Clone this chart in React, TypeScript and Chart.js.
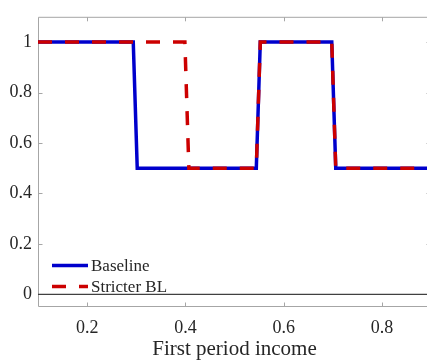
import React, { useEffect, useRef } from 'react';
import { Chart, registerables } from 'chart.js';

Chart.register(...registerables);

const BASELINE_X = [0.1, 0.2939, 0.302, 0.5444, 0.5525, 0.698, 0.7061, 0.9];
const BASELINE_Y = [1, 1, 0.5, 0.5, 1, 1, 0.5, 0.5];
const STRICTER_X = [0.1, 0.399, 0.4071, 0.5444, 0.5525, 0.698, 0.7061, 0.9];
const STRICTER_Y = [1, 1, 0.5, 0.5, 1, 1, 0.5, 0.5];
const ZERO_X = [0.1, 0.9];
const ZERO_Y = [0, 0];
const X_TICKS = [0.2, 0.4, 0.6, 0.8];
const Y_TICKS = [0, 0.2, 0.4, 0.6, 0.8, 1];
const X_MIN = 0.1;
const X_MAX = 0.9;
const Y_MIN = -0.05;
const Y_MAX = 1.1;
const SERIES_LABELS = ['Baseline', 'Stricter BL'];
const X_TITLE = 'First period income';

const FONT = '"Liberation Serif", "Times New Roman", serif';
const TEXT = '#262626';
const BLUE = '#0000CC';
const RED = '#CC0000';
const DASH = [14, 13];

const pts = (xs: number[], ys: number[]) => xs.map((x, i) => ({ x, y: ys[i] }));

const boxPlugin = {
  id: 'boxTicks',
  beforeDatasetsDraw(chart: any) {
    const { ctx, chartArea: a, scales } = chart;
    ctx.save();
    ctx.strokeStyle = '#a6a6a6';
    ctx.lineWidth = 1;
    const l = a.left + 0.5, r = a.right - 0.5, t = a.top + 0.5, b = a.bottom - 0.5;
    ctx.beginPath();
    ctx.moveTo(l, b); ctx.lineTo(l, t); ctx.lineTo(r, t); ctx.lineTo(r, b); ctx.closePath();
    const tl = 4;
    for (const v of X_TICKS) {
      const px = Math.round(scales.x.getPixelForValue(v)) + 0.5;
      ctx.moveTo(px, b); ctx.lineTo(px, b - tl);
      ctx.moveTo(px, t); ctx.lineTo(px, t + tl);
    }
    for (const v of Y_TICKS) {
      const py = Math.round(scales.y.getPixelForValue(v)) + 0.5;
      ctx.moveTo(l, py); ctx.lineTo(l + tl, py);
      ctx.moveTo(r, py); ctx.lineTo(r - tl, py);
    }
    ctx.stroke();
    ctx.restore();
  },
};

const legendPlugin = {
  id: 'insideLegend',
  afterDatasetsDraw(chart: any) {
    const { ctx, chartArea: a } = chart;
    const x0 = a.left + 14;
    const x1 = a.left + 50;
    const rows = [
      { y: a.bottom - 41.5, color: BLUE, dash: [] as number[] },
      { y: a.bottom - 20.5, color: RED, dash: DASH },
    ];
    ctx.save();
    rows.forEach((row, i) => {
      ctx.beginPath();
      ctx.setLineDash(row.dash);
      ctx.strokeStyle = row.color;
      ctx.lineWidth = 3.5;
      ctx.lineCap = 'butt';
      ctx.moveTo(x0, row.y);
      ctx.lineTo(x1, row.y);
      ctx.stroke();
      ctx.setLineDash([]);
      ctx.fillStyle = TEXT;
      ctx.font = `17px ${FONT}`;
      ctx.textAlign = 'left';
      ctx.textBaseline = 'middle';
      ctx.fillText(SERIES_LABELS[i], x1 + 3, row.y + 1);
    });
    ctx.restore();
  },
};

export default function App() {
  const ref = useRef<HTMLCanvasElement | null>(null);

  useEffect(() => {
    if (!ref.current) return;
    const chart = new Chart(ref.current, {
      type: 'line',
      data: {
        datasets: [
          {
            label: 'zero',
            data: pts(ZERO_X, ZERO_Y),
            borderColor: '#404040',
            borderWidth: 1.3,
            pointRadius: 0,
            fill: false,
            order: 3,
          },
          {
            label: SERIES_LABELS[0],
            data: pts(BASELINE_X, BASELINE_Y),
            borderColor: BLUE,
            borderWidth: 3.5,
            borderJoinStyle: 'miter',
            pointRadius: 0,
            fill: false,
            tension: 0,
            order: 2,
          },
          {
            label: SERIES_LABELS[1],
            data: pts(STRICTER_X, STRICTER_Y),
            borderColor: RED,
            borderWidth: 3.5,
            borderDash: DASH,
            borderJoinStyle: 'miter',
            pointRadius: 0,
            fill: false,
            tension: 0,
            order: 1,
          },
        ],
      },
      options: {
        responsive: false,
        animation: false,
        devicePixelRatio: 1,
        layout: { padding: { top: 7, right: 5, left: 0, bottom: 0 } },
        plugins: {
          legend: { display: false },
          tooltip: { enabled: false },
        },
        scales: {
          x: {
            type: 'linear',
            min: X_MIN,
            max: X_MAX,
            grid: { display: false, drawTicks: false },
            border: { display: false },
            afterBuildTicks: (s: any) => { s.ticks = X_TICKS.map((v) => ({ value: v })); },
            afterFit: (s: any) => { s.height = 53; },
            ticks: {
              padding: 10,
              color: TEXT,
              font: { family: FONT, size: 18 },
              maxRotation: 0,
              callback: (v: any) => String(v),
            },
            title: {
              display: true,
              text: X_TITLE,
              color: TEXT,
              font: { family: FONT, size: 21 },
              padding: { top: 0, bottom: -2 },
            },
          },
          y: {
            type: 'linear',
            min: Y_MIN,
            max: Y_MAX,
            grid: { display: false, drawTicks: false },
            border: { display: false },
            afterBuildTicks: (s: any) => { s.ticks = Y_TICKS.map((v) => ({ value: v })); },
            afterFit: (s: any) => { s.width = 38; },
            ticks: {
              padding: 6,
              color: TEXT,
              font: { family: FONT, size: 18 },
              callback: (v: any) => String(v),
            },
          },
        },
      },
      plugins: [boxPlugin, legendPlugin],
    } as any);
    return () => chart.destroy();
  }, []);

  return (
    <div style={{ position: 'fixed', left: 0, top: 0, width: 427, height: 360, overflow: 'hidden', background: '#fff' }}>
      <canvas ref={ref} width={436} height={360} style={{ display: 'block', width: 436, height: 360 }} />
    </div>
  );
}
